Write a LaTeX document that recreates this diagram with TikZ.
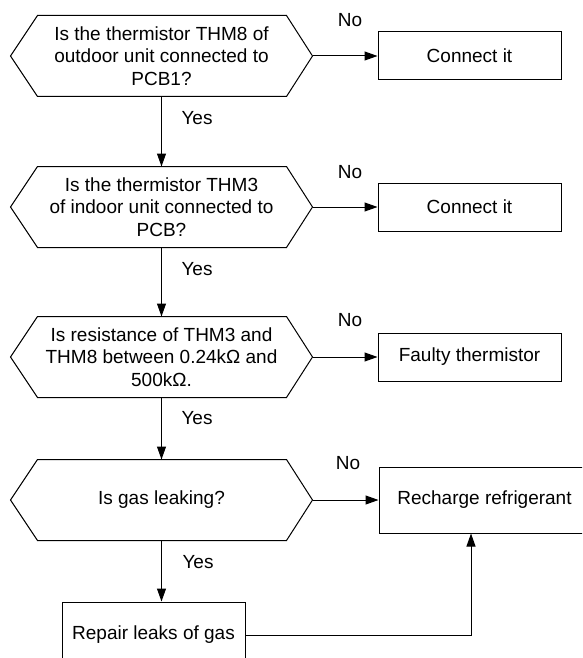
\documentclass[tikz,border=0pt]{standalone}
\usepackage{fontspec}
\setmainfont{Liberation Sans}
\usetikzlibrary{arrows.meta}

\tikzset{
  quest/.style={minimum width=301pt,minimum height=80pt,inner sep=0pt,align=center},
  act/.style={draw,minimum width=183pt,minimum height=48pt,inner sep=0pt},
  wide/.style={act,minimum width=211pt,minimum height=66pt},
}
\newcommand\hexline[1]{\draw (#1.west) -- ([xshift=27pt]#1.north west)
  -- ([xshift=-26pt]#1.north east) -- (#1.east) -- ([xshift=-26pt]#1.south east)
  -- ([xshift=27pt]#1.south west) -- cycle;}

\begin{document}
\begin{tikzpicture}[x=1pt,y=-1pt,>={Triangle[length=13pt,width=9pt]},line width=1pt,
  font=\fontsize{19}{22.5}\selectfont]
  \useasboundingbox (0,0) rectangle (582,658);
  \clip (0,0) rectangle (582,658);

  % questions
  \node[quest] (q1) at (161.5,56) {Is the thermistor THM8 of\\outdoor unit connected to\\PCB1?};
  \node[quest] (q2) at (161.5,207) {Is the thermistor THM3\\of indoor unit connected to\\PCB?};
  \node[quest] (q3) at (161.5,357) {Is resistance of THM3 and\\THM8 between 0.24kΩ and\\500kΩ.};
  \node[quest] (q4) at (161.5,500) {Is gas leaking?};
  \foreach \q in {q1,q2,q3,q4} {\hexline{\q}}

  % actions
  \node[act] (c1) at (469.5,56) {Connect it};
  \node[act] (c2) at (469.5,207) {Connect it};
  \node[act] (c3) at (469.5,357) {Faulty thermistor};
  \node[wide] (rc) at (484.5,500) {Recharge refrigerant};
  \node[act,minimum height=66pt] (rp) at (153.5,635) {Repair leaks of gas};

  \draw[->] (q1.east) -- (c1.west);
  \draw[->] (q2.east) -- (c2.west);
  \draw[->] (q3.east) -- (c3.west);
  \draw[->] (q4.east) -- (rc.west);
  \draw[->] (q1.south) -- (q2.north);
  \draw[->] (q2.south) -- (q3.north);
  \draw[->] (q3.south) -- (q4.north);
  \draw[->] (q4.south) -- (q4.south |- rp.north);
  \draw[->] (rp.east) -| ([xshift=-13.5pt]rc.south);

  % labels
  \node (no1) at (350,20) {No};
  \node (no2) at (350,172) {No};
  \node (no3) at (350,320) {No};
  \node (no4) at (348,463) {No};
  \node (yes1) at (197,118) {Yes};
  \node (yes2) at (197,269) {Yes};
  \node (yes3) at (197,418) {Yes};
  \node (yes4) at (198,562) {Yes};
\end{tikzpicture}
\end{document}
